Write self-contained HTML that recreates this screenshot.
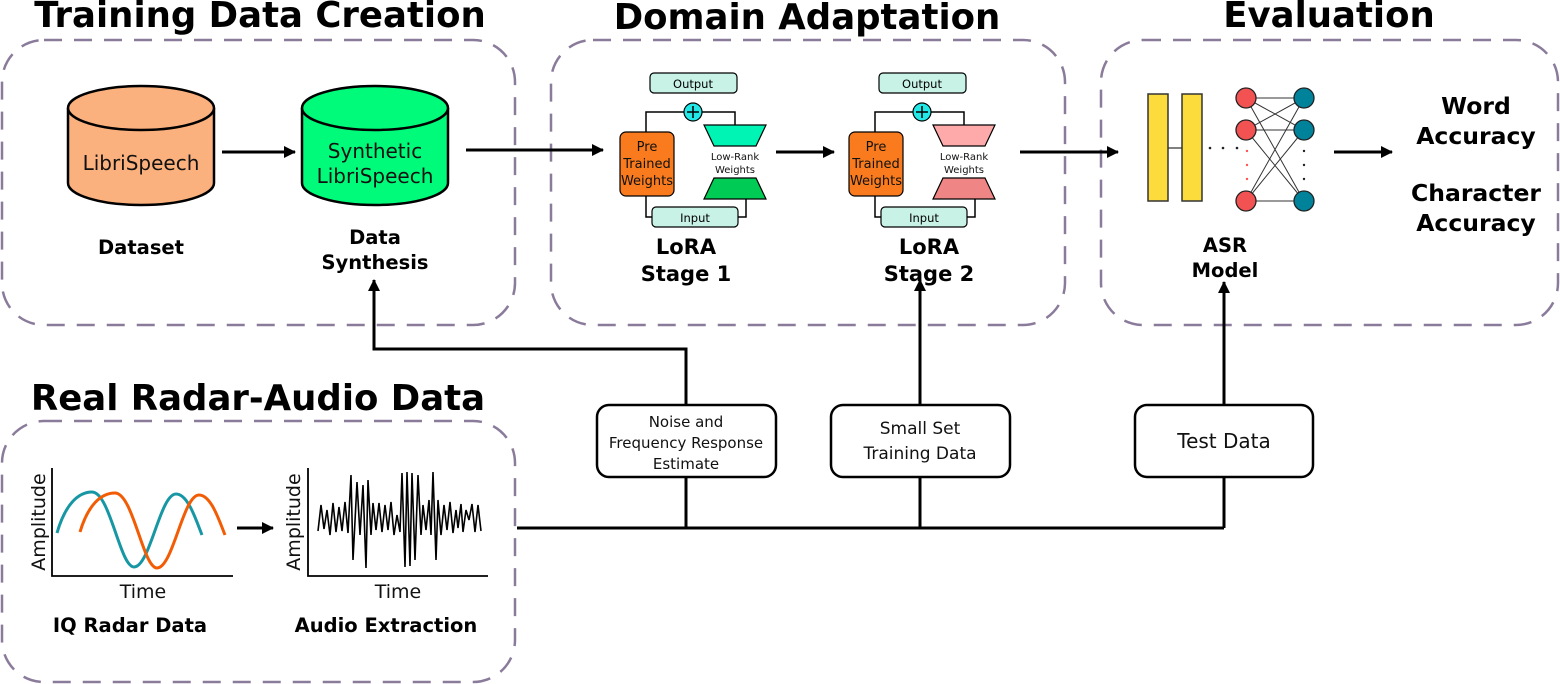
<!DOCTYPE html>
<html><head><meta charset="utf-8"><style>
html,body{margin:0;padding:0;background:#fff;}
svg{display:block;font-family:"DejaVu Sans","Liberation Sans",sans-serif;}
.b{font-weight:bold;}
</style></head><body>
<svg width="1560" height="684" viewBox="0 0 1560 684" xmlns="http://www.w3.org/2000/svg">
<defs>
<marker id="ah" markerWidth="12" markerHeight="12" refX="11" refY="6" orient="auto" markerUnits="userSpaceOnUse" viewBox="0 0 12 12">
<path d="M0,0 L12,6 L0,12 z" fill="#000"/></marker>
</defs>
<g fill="none" stroke="#8a7b9b" stroke-width="2.5" stroke-dasharray="18 12">
<rect x="2" y="40" width="513" height="285" rx="42"/>
<rect x="551" y="40" width="514" height="285" rx="42"/>
<rect x="1101" y="40" width="457" height="285" rx="42"/>
<rect x="2" y="421" width="513" height="261" rx="42"/>
</g>
<g class="b" font-size="35.5" text-anchor="middle" fill="#000">
<text x="260" y="27">Training Data Creation</text>
<text x="807" y="29">Domain Adaptation</text>
<text x="1329" y="27">Evaluation</text>
<text x="258" y="410">Real Radar-Audio Data</text>
</g>
<g stroke="#000" stroke-width="2.5">
<path d="M68,108 L68,183 A73,22 0 0 0 214,183 L214,108" fill="#fbb17e"/>
<ellipse cx="141" cy="108" rx="73" ry="22" fill="#fbb17e"/>
<path d="M302,108 L302,183 A73,22 0 0 0 448,183 L448,108" fill="#00fa7a"/>
<ellipse cx="375" cy="108" rx="73" ry="22" fill="#00fa7a"/>
</g>
<g font-size="20" text-anchor="middle" fill="#111">
<text x="141" y="170">LibriSpeech</text>
<text x="375" y="158">Synthetic</text>
<text x="375" y="183">LibriSpeech</text>
</g>
<g class="b" font-size="19.5" text-anchor="middle">
<text x="141" y="254">Dataset</text>
<text x="375" y="244">Data</text>
<text x="375" y="269">Synthesis</text>
<text x="686" y="254" font-size="21">LoRA</text>
<text x="686" y="281" font-size="21">Stage 1</text>
<text x="929" y="254" font-size="21">LoRA</text>
<text x="929" y="281" font-size="21">Stage 2</text>
<text x="1225" y="252">ASR</text>
<text x="1225" y="277">Model</text>
<text x="1476" y="114" font-size="23.5">Word</text>
<text x="1476" y="144" font-size="23.5">Accuracy</text>
<text x="1476" y="201" font-size="23.5">Character</text>
<text x="1476" y="231" font-size="23.5">Accuracy</text>
<text x="130" y="632">IQ Radar Data</text>
<text x="386" y="632">Audio Extraction</text>
</g>
<g stroke="#000" stroke-width="3" marker-end="url(#ah)">
<line x1="222" y1="152" x2="295" y2="152"/>
<line x1="466" y1="150" x2="603" y2="150"/>
<line x1="776" y1="152" x2="834" y2="152"/>
<line x1="1020" y1="152" x2="1118" y2="152"/>
<line x1="1334" y1="152" x2="1392" y2="152"/>
<line x1="237" y1="528" x2="273" y2="528"/>
</g>
<g>
<g fill="none" stroke="#000" stroke-width="1.5">
<polyline points="646,132 646,112 735,112 735,125"/>
<polyline points="646,196 646,217 652,217"/>
<polyline points="738,217 746,217 746,199"/>
</g>
<rect x="650" y="73" width="87" height="20" rx="4" fill="#c9f2e6" stroke="#000" stroke-width="1.2"/>
<text x="693" y="88" font-size="11.5" text-anchor="middle">Output</text>
<circle cx="693" cy="112" r="9" fill="#22e8e8" stroke="#000" stroke-width="1.2"/>
<path d="M693,106 v12 M687,112 h12" stroke="#000" stroke-width="1.5"/>
<rect x="620" y="132" width="54" height="64" rx="6" fill="#f97b1e" stroke="#000" stroke-width="1.2"/>
<g font-size="13" text-anchor="middle" fill="#111"><text x="647" y="151">Pre</text><text x="647" y="168">Trained</text><text x="647" y="185">Weights</text></g>
<polygon points="704,125 766,125 756,146 714,146" fill="#00f5b5" stroke="#000" stroke-width="1.2"/>
<polygon points="714,178 756,178 766,199 704,199" fill="#00cc55" stroke="#000" stroke-width="1.2"/>
<g font-size="10" text-anchor="middle" fill="#111"><text x="735" y="160">Low-Rank</text><text x="735" y="173">Weights</text></g>
<rect x="652" y="207" width="86" height="20" rx="4" fill="#c9f2e6" stroke="#000" stroke-width="1.2"/>
<text x="695" y="222" font-size="11.5" text-anchor="middle">Input</text>
</g>
<g transform="translate(229,0)">
<g fill="none" stroke="#000" stroke-width="1.5">
<polyline points="646,132 646,112 735,112 735,125"/>
<polyline points="646,196 646,217 652,217"/>
<polyline points="738,217 746,217 746,199"/>
</g>
<rect x="650" y="73" width="87" height="20" rx="4" fill="#c9f2e6" stroke="#000" stroke-width="1.2"/>
<text x="693" y="88" font-size="11.5" text-anchor="middle">Output</text>
<circle cx="693" cy="112" r="9" fill="#22e8e8" stroke="#000" stroke-width="1.2"/>
<path d="M693,106 v12 M687,112 h12" stroke="#000" stroke-width="1.5"/>
<rect x="620" y="132" width="54" height="64" rx="6" fill="#f97b1e" stroke="#000" stroke-width="1.2"/>
<g font-size="13" text-anchor="middle" fill="#111"><text x="647" y="151">Pre</text><text x="647" y="168">Trained</text><text x="647" y="185">Weights</text></g>
<polygon points="704,125 766,125 756,146 714,146" fill="#ffaaaa" stroke="#000" stroke-width="1.2"/>
<polygon points="714,178 756,178 766,199 704,199" fill="#f08585" stroke="#000" stroke-width="1.2"/>
<g font-size="10" text-anchor="middle" fill="#111"><text x="735" y="160">Low-Rank</text><text x="735" y="173">Weights</text></g>
<rect x="652" y="207" width="86" height="20" rx="4" fill="#c9f2e6" stroke="#000" stroke-width="1.2"/>
<text x="695" y="222" font-size="11.5" text-anchor="middle">Input</text>
</g>
<line x1="1168" y1="148" x2="1182" y2="148" stroke="#555" stroke-width="1.5"/>
<rect x="1148" y="94" width="20" height="107" fill="#fcdc3c" stroke="#333" stroke-width="1.5"/>
<rect x="1182" y="94" width="20" height="107" fill="#fcdc3c" stroke="#333" stroke-width="1.5"/>
<g fill="#222"><circle cx="1210" cy="148" r="1.3"/><circle cx="1223" cy="148" r="1.3"/><circle cx="1237" cy="148" r="1.3"/></g>
<g fill="#f55"><circle cx="1247" cy="151" r="1.2"/><circle cx="1247" cy="165" r="1.2"/><circle cx="1247" cy="179" r="1.2"/></g>
<g fill="#222"><circle cx="1304" cy="151" r="1.2"/><circle cx="1304" cy="165" r="1.2"/><circle cx="1304" cy="179" r="1.2"/></g>
<g stroke="#333" stroke-width="1">
<line x1="1246" y1="98" x2="1304" y2="98"/><line x1="1246" y1="98" x2="1304" y2="130"/><line x1="1246" y1="98" x2="1304" y2="201"/>
<line x1="1246" y1="130" x2="1304" y2="98"/><line x1="1246" y1="130" x2="1304" y2="130"/><line x1="1246" y1="130" x2="1304" y2="201"/>
<line x1="1246" y1="201" x2="1304" y2="98"/><line x1="1246" y1="201" x2="1304" y2="130"/><line x1="1246" y1="201" x2="1304" y2="201"/>
</g>
<g stroke="#222" stroke-width="1.3">
<circle cx="1246" cy="98" r="10" fill="#f25252"/><circle cx="1246" cy="130" r="10" fill="#f25252"/><circle cx="1246" cy="201" r="10" fill="#f25252"/>
<circle cx="1304" cy="98" r="10" fill="#00829a"/><circle cx="1304" cy="130" r="10" fill="#00829a"/><circle cx="1304" cy="201" r="10" fill="#00829a"/>
</g>
<g fill="none" stroke="#000" stroke-width="3">
<line x1="517" y1="528" x2="1224" y2="528"/>
<polyline points="686,528 686,349 374,349 374,280" marker-end="url(#ah)"/>
<line x1="920" y1="528" x2="920" y2="280" marker-end="url(#ah)"/>
<line x1="1224" y1="528" x2="1224" y2="282" marker-end="url(#ah)"/>
</g>
<g fill="#fff" stroke="#000" stroke-width="2.5">
<rect x="597" y="405" width="179" height="72" rx="12"/>
<rect x="831" y="405" width="179" height="72" rx="12"/>
<rect x="1135" y="405" width="178" height="72" rx="12"/>
</g>
<g text-anchor="middle" fill="#111">
<text x="686" y="427" font-size="15">Noise and</text>
<text x="686" y="448" font-size="15">Frequency Response</text>
<text x="686" y="469" font-size="15">Estimate</text>
<text x="920" y="434" font-size="17">Small Set</text>
<text x="920" y="459" font-size="17">Training Data</text>
<text x="1224" y="448" font-size="20">Test Data</text>
</g>
<g fill="none" stroke="#000" stroke-width="1.8">
<polyline points="52,468 52,576 233,576"/>
<polyline points="308,468 308,576 488,576"/>
</g>
<path d="M57,533 C65,505 78,492 92,492 C110,492 120,567 134,567 C150,567 160,494 176,494 C188,494 196,520 202,535" fill="none" stroke="#1797a4" stroke-width="3"/>
<path d="M80,532 C88,505 101,493 115,493 C133,493 143,568 157,568 C173,568 183,495 199,495 C211,495 219,520 225,535" fill="none" stroke="#f25c05" stroke-width="3"/>
<polyline fill="none" stroke="#000" stroke-width="1.6" points="318,531 321,505 324,529 327,510 330,535 333,503 336,532 339,507 342,531 345,502 348,533 351,475 353,560 357,482 360,535 363,485 366,568 368,480 371,535 373,503 376,530 379,503 382,532 385,505 388,530 391,502 394,535 397,515 400,532 402,473 405,567 407,472 410,566 412,473 415,560 418,475 421,535 423,505 426,530 429,500 431,535 433,472 436,560 438,500 441,535 444,505 447,530 450,502 453,533 456,510 458,528 461,504 463,532 466,510 469,520 472,504 475,532 478,505 481,531"/>
<g font-size="19" fill="#111" text-anchor="middle">
<text x="143" y="598">Time</text>
<text x="398" y="598">Time</text>
<text transform="translate(45,522) rotate(-90)">Amplitude</text>
<text transform="translate(300,522) rotate(-90)">Amplitude</text>
</g>
</svg>
</body></html>
